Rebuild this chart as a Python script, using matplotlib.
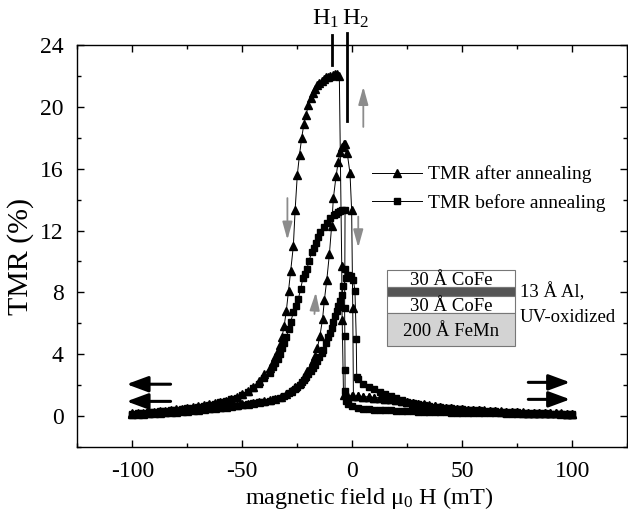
import matplotlib
matplotlib.use("Agg")
import matplotlib.pyplot as plt
from matplotlib.patches import Rectangle
from matplotlib.ticker import MultipleLocator

plt.rcParams["font.family"] = ["Liberation Serif", "DejaVu Serif"]
plt.rcParams["mathtext.default"] = "regular"
plt.rcParams["axes.unicode_minus"] = False

# TMR after annealing, field swept from +100 down to -100 mT
after_down_h = [100, 97.5, 95, 92.5, 90, 87.5, 85, 82.5, 80, 77.5, 75, 72.5, 70, 67.5, 65, 62.5,
                60, 57.5, 55, 52.5, 50, 47.5, 45, 42.5, 40, 37.5, 35, 32.5, 30, 27.5, 25, 22.5,
                20, 17.5, 15, 12.5, 10, 7.5, 5, 2.5, 0, -2.5, -4.0,
                -4.6, -4.7, -4.8, -5.9,
                -7, -8, -9, -10, -11, -12, -13, -14, -15, -16, -17, -18, -19, -20, -21, -22,
                -23, -24, -25, -26, -26.8, -28, -29, -30, -31, -32, -33, -34, -35, -36, -37.5,
                -40, -42.5, -45, -47.5, -50, -52.5, -55, -57.5, -60, -62.5, -65, -67.5, -70,
                -72.5, -75, -77.5, -80, -82.5, -85, -87.5, -90, -92.5, -95, -97.5, -100]
after_down_tmr = [0.15, 0.16, 0.17, 0.18, 0.19, 0.2, 0.21, 0.22, 0.23, 0.25, 0.26, 0.27, 0.29, 0.3,
                  0.32, 0.34, 0.36, 0.38, 0.4, 0.42, 0.45, 0.48, 0.51, 0.55, 0.59, 0.64, 0.69, 0.75,
                  0.81, 0.87, 0.93, 0.99, 1.04, 1.09, 1.13, 1.17, 1.2, 1.23, 1.26, 1.28, 1.3, 1.33,
                  1.38,
                  6.2, 7.1, 9.7, 22.0,
                  22.1, 22.1, 22.05, 22.0, 21.95, 21.9, 21.8, 21.7, 21.55, 21.4, 21.15, 20.9, 20.55,
                  20.1, 19.5, 18.9, 18.0, 16.9, 15.6, 13.3, 11.0, 9.4, 8.1, 6.8, 5.8, 5.1, 4.6, 4.2,
                  3.85, 3.5, 3.1, 2.7, 2.25, 1.9, 1.6, 1.4, 1.25, 1.12, 1.0, 0.92, 0.84, 0.77, 0.7,
                  0.64, 0.58, 0.53, 0.48, 0.43, 0.39, 0.35, 0.31, 0.28, 0.25, 0.22, 0.19, 0.17]

# TMR after annealing, field swept from -100 up to +100 mT
after_up_h = [-100, -97.5, -95, -92.5, -90, -87.5, -85, -82.5, -80, -77.5, -75, -72.5, -70, -67.5,
              -65, -62.5, -60, -57.5, -55, -52.5, -50, -47.5, -45, -42.5, -40, -37.5, -35, -32.5,
              -30, -28, -26, -24, -22, -20.5, -19, -18, -17, -15.9, -14.7, -13.5, -12.7, -11.6,
              -10.4, -9.4, -8.6, -7.4, -6.4, -5.6, -4.8, -4.0, -3.3, -2.3, -1.05, -0.3,
              0.2, 0.5,
              2.5, 5, 7.5, 10, 12.5, 15, 17.5, 20, 22.5, 25, 27.5, 30, 32.5, 35, 37.5, 40, 42.5,
              45, 47.5, 50, 52.5, 55, 57.5, 60, 62.5, 65, 67.5, 70, 72.5, 75, 77.5, 80, 82.5, 85,
              87.5, 90, 92.5, 95, 97.5, 100]
after_up_tmr = [0.12, 0.14, 0.16, 0.18, 0.2, 0.22, 0.24, 0.26, 0.29, 0.32, 0.35, 0.38, 0.42, 0.45,
                0.49, 0.53, 0.57, 0.61, 0.66, 0.71, 0.76, 0.8, 0.85, 0.9, 0.96, 1.03, 1.12, 1.25,
                1.42, 1.6, 1.85, 2.15, 2.55, 2.9, 3.25, 3.55, 3.9, 4.4, 5.2, 6.3, 7.5, 8.8,
                10.5, 12.3, 14.1, 15.5, 16.45, 17.1, 17.4, 17.6, 17.6, 17.0, 15.7, 13.3,
                7.0, 1.3,
                1.27, 1.25, 1.22, 1.19, 1.16, 1.12, 1.08, 1.03, 0.98, 0.92, 0.86, 0.8, 0.74, 0.68,
                0.63, 0.58, 0.54, 0.5, 0.47, 0.44, 0.41, 0.39, 0.37, 0.35, 0.33, 0.31, 0.29, 0.28,
                0.26, 0.25, 0.23, 0.22, 0.21, 0.2, 0.19, 0.18, 0.17, 0.16, 0.15, 0.15]

# TMR before annealing, field swept from +100 down to -100 mT
before_down_h = [100, 97.5, 95, 92.5, 90, 87.5, 85, 82.5, 80, 77.5, 75, 72.5, 70, 67.5, 65, 62.5,
                 60, 57.5, 55, 52.5, 50, 47.5, 45, 42.5, 40, 37.5, 35, 32.5, 30, 27.5, 25, 22.5,
                 20, 17.5, 15, 12.5, 10, 7.5, 5, 2.5, 0, -1.8, -2.8,
                 -3.3, -3.3, -3.4, -3.5, -3.4, -3.3,
                 -4.5, -5.5, -6.4, -7.5, -8.5, -10, -11.5, -13, -14.5, -15.5, -16.5, -17.5, -18.5,
                 -19.6, -20.7, -21.6, -22.5, -23.5, -24.5, -25.6, -26.8, -28, -29, -30, -31, -32,
                 -33, -34, -35, -36, -37.5, -40, -42.5, -45, -47.5, -50, -52.5, -55, -57.5, -60,
                 -62.5, -65, -67.5, -70, -72.5, -75, -77.5, -80, -82.5, -85, -87.5, -90, -92.5,
                 -95, -97.5, -100]
before_down_tmr = [0.1, 0.1, 0.11, 0.11, 0.12, 0.12, 0.13, 0.13, 0.14, 0.14, 0.15, 0.15, 0.16, 0.17,
                   0.17, 0.18, 0.19, 0.2, 0.2, 0.21, 0.22, 0.22, 0.23, 0.24, 0.25, 0.26, 0.27, 0.28,
                   0.29, 0.3, 0.31, 0.33, 0.34, 0.36, 0.38, 0.4, 0.42, 0.44, 0.47, 0.53, 0.62, 0.75,
                   0.95,
                   1.6, 3.0, 5.2, 7.0, 9.5, 13.3,
                   13.3, 13.25, 13.2, 13.1, 13.0, 12.8, 12.5, 12.25, 11.9, 11.6, 11.2, 10.9, 10.6,
                   10.05, 9.5, 9.2, 8.9, 8.2, 7.6, 7.1, 6.7, 6.1, 5.6, 5.1, 4.7, 4.4, 4.0, 3.7, 3.4,
                   3.15, 2.8, 2.45, 2.1, 1.8, 1.55, 1.35, 1.2, 1.08, 0.97, 0.88, 0.8, 0.73, 0.66,
                   0.6, 0.55, 0.5, 0.45, 0.41, 0.37, 0.33, 0.3, 0.27, 0.24, 0.21, 0.19, 0.16]

# TMR before annealing, field swept from -100 up to +100 mT
before_up_h = [-100, -97.5, -95, -92.5, -90, -87.5, -85, -82.5, -80, -77.5, -75, -72.5, -70, -67.5,
               -65, -62.5, -60, -57.5, -55, -52.5, -50, -47.5, -45, -42.5, -40, -37.5, -35, -33,
               -31, -29, -27.5, -26, -25, -24, -23, -22, -21, -20, -19, -18, -17, -16, -15, -14,
               -13.2, -12, -10.9, -10.1, -9.4, -8.6, -7.9, -7.1, -6.4, -5.6, -4.8, -4.1, -3.0,
               -1.8, -0.5, 0.5, 1.2,
               1.8, 2.0,
               2.5, 5, 7.5, 10, 12.5, 15, 17.5, 20, 22.5, 25, 27.5, 30, 32.5, 35, 37.5, 40, 42.5,
               45, 47.5, 50, 52.5, 55, 57.5, 60, 62.5, 65, 67.5, 70, 72.5, 75, 77.5, 80, 82.5, 85,
               87.5, 90, 92.5, 95, 97.5, 100]
before_up_tmr = [0.1, 0.12, 0.14, 0.16, 0.18, 0.2, 0.22, 0.24, 0.27, 0.3, 0.33, 0.36, 0.4, 0.43,
                 0.47, 0.51, 0.55, 0.59, 0.63, 0.68, 0.73, 0.78, 0.83, 0.88, 0.93, 1.0, 1.1, 1.2,
                 1.32, 1.47, 1.6, 1.75, 1.88, 2.02, 2.18, 2.35, 2.52, 2.72, 2.92, 3.12, 3.32, 3.55,
                 3.8, 4.05, 4.3, 4.7, 5.1, 5.4, 5.7, 6.1, 6.5, 6.8, 7.1, 7.45, 7.8, 8.4, 8.9, 9.1,
                 9.05, 8.8, 8.1,
                 5.0, 2.5,
                 2.4, 2.1, 1.88, 1.72, 1.56, 1.42, 1.28, 1.15, 1.03, 0.93, 0.84, 0.77, 0.71, 0.66,
                 0.6, 0.56, 0.52, 0.49, 0.46, 0.44, 0.41, 0.39, 0.37, 0.35, 0.33, 0.31, 0.29, 0.27,
                 0.25, 0.24, 0.22, 0.21, 0.19, 0.18, 0.17, 0.15, 0.14, 0.13, 0.12, 0.11]

x_ticks = [-100, -50, 0, 50, 100]
y_ticks = [0, 4, 8, 12, 16, 20, 24]

fig = plt.figure(figsize=(6.28, 5.25), dpi=100)
ax = fig.add_axes([0.1231, 0.1486, 0.8758, 0.7657])

line_kw = dict(color="black", lw=0.7, mfc="black", mec="black")
ax.plot(after_down_h, after_down_tmr, marker="^", ms=6, label="TMR after annealing", **line_kw)
ax.plot(after_up_h, after_up_tmr, marker="^", ms=6, **line_kw)
ax.plot(before_down_h, before_down_tmr, marker="s", ms=4.6, label="TMR before annealing", **line_kw)
ax.plot(before_up_h, before_up_tmr, marker="s", ms=4.6, **line_kw)

ax.set_xlim(-125, 125)
ax.set_ylim(-2, 24)
ax.set_xticks(x_ticks)
ax.set_yticks(y_ticks)
ax.xaxis.set_minor_locator(MultipleLocator(25))
ax.yaxis.set_minor_locator(MultipleLocator(2))
ax.tick_params(which="both", direction="in", top=True, right=True, width=1, labelsize=17)
ax.tick_params(which="major", length=5)
ax.tick_params(which="minor", length=3)
ax.tick_params(axis="x", pad=10)
ax.tick_params(axis="y", pad=10)
for sp in ax.spines.values():
    sp.set_linewidth(1.0)

ax.set_xlabel("magnetic field μ$_0$ H (mT)", fontsize=17.5)
ax.set_ylabel("TMR (%)", fontsize=21.5)
ax.xaxis.set_label_coords(0.53, -0.095)
ax.yaxis.set_label_coords(-0.078, 0.475)

ax.legend(loc="upper left", bbox_to_anchor=(0.536, 0.700), frameon=False, fontsize=14,
          handlelength=2.57, handletextpad=0.3, labelspacing=0.55, borderpad=0, borderaxespad=0)

# H1 / H2 switching-field markers
ax.plot([-9.4, -9.4], [22.7, 24.65], color="black", lw=2, clip_on=False)
ax.plot([-2.6, -2.6], [19.1, 24.8], color="black", lw=2, clip_on=False)
ax.text(-18.5, 25.3, "H$_1$", fontsize=17.5, ha="left", va="baseline", clip_on=False)
ax.text(-4.5, 25.3, "H$_2$", fontsize=17.5, ha="left", va="baseline", clip_on=False)

# sweep direction arrows (grey)
grey = "#8c8c8c"
for tail, head in [((-29.5, 14.1), (-29.5, 11.4)), ((5, 18.7), (5, 21.3)),
                   ((2.7, 12.9), (2.7, 10.9)), ((-17.2, 6.6), (-16.6, 8.0))]:
    ax.annotate("", xy=head, xytext=tail,
                arrowprops=dict(arrowstyle="-|>,head_length=0.9,head_width=0.25",
                                color=grey, lw=1.3, mutation_scale=12, shrinkA=0, shrinkB=0))

# black field-direction arrows
for tail, head in [((-82.6, 2.06), (-102.6, 2.06)), ((-82.6, 0.95), (-102.6, 0.95)),
                   ((80, 2.18), (99, 2.18)), ((80, 1.08), (99, 1.08))]:
    ax.annotate("", xy=head, xytext=tail,
                arrowprops=dict(arrowstyle="-|>,head_length=0.65,head_width=0.24",
                                color="black", lw=2.2, mutation_scale=20, shrinkA=0, shrinkB=0))

# layer stack inset
x0, x1 = 15.9, 74.0
layers = [(8.35, 9.46, "white", "30 Å CoFe"),
          (7.77, 8.35, "#555555", None),
          (6.67, 7.77, "white", "30 Å CoFe"),
          (4.53, 6.67, "#d3d3d3", "200 Å FeMn")]
for y0, y1, fc, txt in layers:
    ax.add_patch(Rectangle((x0, y0), x1 - x0, y1 - y0, facecolor=fc, edgecolor="#777777",
                           lw=0.8, zorder=3))
    if txt:
        ax.text((x0 + x1) / 2, (y0 + y1) / 2 - 0.12, txt, ha="center", va="center",
                fontsize=13.5, zorder=4)
ax.text(76.2, 8.03, "13 Å Al,", ha="left", va="center", fontsize=13.5)
ax.text(76.2, 6.4, "UV-oxidized", ha="left", va="center", fontsize=13.5)

fig.savefig("out.png", dpi=100)
